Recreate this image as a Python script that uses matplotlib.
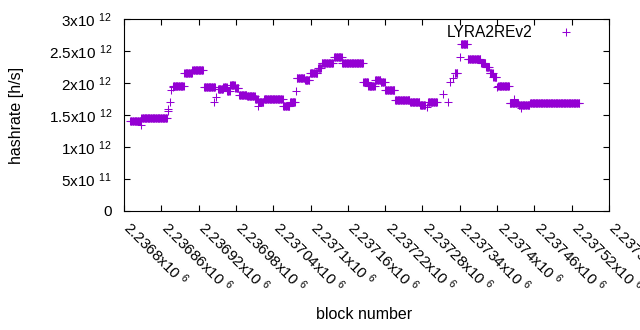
import numpy as np
import matplotlib
matplotlib.use("Agg")
import matplotlib.pyplot as plt
from matplotlib.transforms import ScaledTranslation

plt.rcParams['font.family'] = ['Liberation Sans', 'DejaVu Sans']
plt.rcParams['mathtext.fontset'] = 'custom'
plt.rcParams['mathtext.rm'] = 'Liberation Sans'
plt.rcParams['mathtext.it'] = 'Liberation Sans'

series_name = "LYRA2REv2"
# constant-hashrate runs: start block, end block, hashrate (x1e12 h/s)
run_start = [2236810, 2236827, 2236828, 2236871, 2236871, 2236874, 2236876, 2236878,
             2236879, 2236897, 2236910, 2236929, 2236945, 2236948, 2236951, 2236960,
             2236966, 2236971, 2236979, 2236985, 2236998, 2237011, 2237016, 2237017,
             2237025, 2237041, 2237056, 2237067, 2237077, 2237078, 2237091, 2237099,
             2237112, 2237118, 2237138, 2237151, 2237185, 2237193, 2237204, 2237213,
             2237220, 2237236, 2237260, 2237276, 2237287, 2237289, 2237313, 2237321,
             2237324, 2237329, 2237332, 2237340, 2237342, 2237353, 2237374, 2237382,
             2237388, 2237394, 2237400, 2237402, 2237420, 2237427, 2237435, 2237439,
             2237453]
run_end = [2236827, 2236827, 2236869, 2236871, 2236871, 2236874, 2236876, 2236878,
           2236896, 2236909, 2236927, 2236946, 2236945, 2236948, 2236959, 2236965,
           2236970, 2236978, 2236984, 2236997, 2237010, 2237015, 2237016, 2237024,
           2237040, 2237055, 2237066, 2237075, 2237077, 2237090, 2237098, 2237111,
           2237117, 2237136, 2237150, 2237184, 2237192, 2237203, 2237212, 2237219,
           2237235, 2237259, 2237275, 2237284, 2237287, 2237303, 2237313, 2237321,
           2237324, 2237329, 2237336, 2237340, 2237352, 2237373, 2237381, 2237387,
           2237393, 2237399, 2237400, 2237419, 2237434, 2237427, 2237452, 2237439,
           2237532]
run_value = [1.40, 1.35, 1.45, 1.56, 1.60, 1.71, 1.89, 1.93,
             1.96, 2.16, 2.21, 1.93, 1.71, 1.78, 1.90, 1.94,
             1.88, 1.97, 1.92, 1.82, 1.79, 1.75, 1.64, 1.71,
             1.755, 1.75, 1.64, 1.70, 1.875, 2.08, 2.05, 2.16,
             2.23, 2.32, 2.40, 2.32, 2.01, 1.96, 2.04, 2.01,
             1.89, 1.73, 1.71, 1.66, 1.63, 1.71, 1.83, 1.71,
             2.02, 2.08, 2.15, 2.41, 2.61, 2.37, 2.31, 2.25,
             2.16, 2.10, 1.93, 1.95, 1.69, 1.745, 1.655, 1.61,
             1.68]

xtick_vals = [2236800, 2236860, 2236920, 2236980, 2237040, 2237100, 2237160,
              2237220, 2237280, 2237340, 2237400, 2237460, 2237520, 2237580]
xtick_text = ["2.2368", "2.23686", "2.23692", "2.23698", "2.23704", "2.2371", "2.23716",
              "2.23722", "2.23728", "2.23734", "2.2374", "2.23746", "2.23752", "2.23758"]
ytick_vals = [0, 0.5e12, 1e12, 1.5e12, 2e12, 2.5e12, 3e12]
ytick_text = ["0", "5x10 $^{11}$", "1x10 $^{12}$", "1.5x10 $^{12}$", "2x10 $^{12}$",
              "2.5x10 $^{12}$", "3x10 $^{12}$"]

blocks = []
rates = []
for s, e, v in zip(run_start, run_end, run_value):
    b = np.arange(s, e + 1)
    blocks.append(b)
    rates.append(np.full(b.shape, v * 1e12))
blocks = np.concatenate(blocks)
rates = np.concatenate(rates)

fig = plt.figure(figsize=(6.4, 3.3), dpi=100)
ax = fig.add_axes([124/640, 1 - 211/330, (609-124)/640, (211-19)/330])
color = '#9400D3'
ax.plot(blocks, rates, linestyle='none', marker='+', markersize=5.6,
        markeredgewidth=0.75, color=color, label=series_name)

ax.set_xlim(2236800, 2237580)
ax.set_ylim(0, 3e12)
ax.set_yticks(ytick_vals)
ax.set_yticklabels(ytick_text, fontsize=11)
ax.set_xticks(xtick_vals)
ax.set_xticklabels([t + "x10 $^{6}$" for t in xtick_text], fontsize=11,
                   rotation=-45, ha='left', va='center', rotation_mode='anchor')
ax.tick_params(direction='in', length=4.5, width=0.8, top=True, right=True, pad=8.5)
ax.tick_params(axis='x', pad=10)
off = ScaledTranslation(3/100, 0, fig.dpi_scale_trans)
for lab in ax.get_xticklabels():
    lab.set_transform(lab.get_transform() + off)
for sp in ax.spines.values():
    sp.set_linewidth(0.8)

ax.set_xlabel("block number", fontsize=11.5)
ax.xaxis.set_label_coords(364/640, 1 - 307/330, transform=fig.transFigure)
ax.set_ylabel("hashrate [h/s]", fontsize=11.5)
ax.yaxis.set_label_coords(24/640, 1 - 115/330, transform=fig.transFigure)

leg = ax.legend(loc='upper right', bbox_to_anchor=(582/640, 1 - 25/330),
                bbox_transform=fig.transFigure, frameon=False, markerfirst=False,
                numpoints=1, handlelength=2.0, handletextpad=1.2, borderpad=0,
                borderaxespad=0, fontsize=11.2)

fig.savefig("out.png", dpi=100)
